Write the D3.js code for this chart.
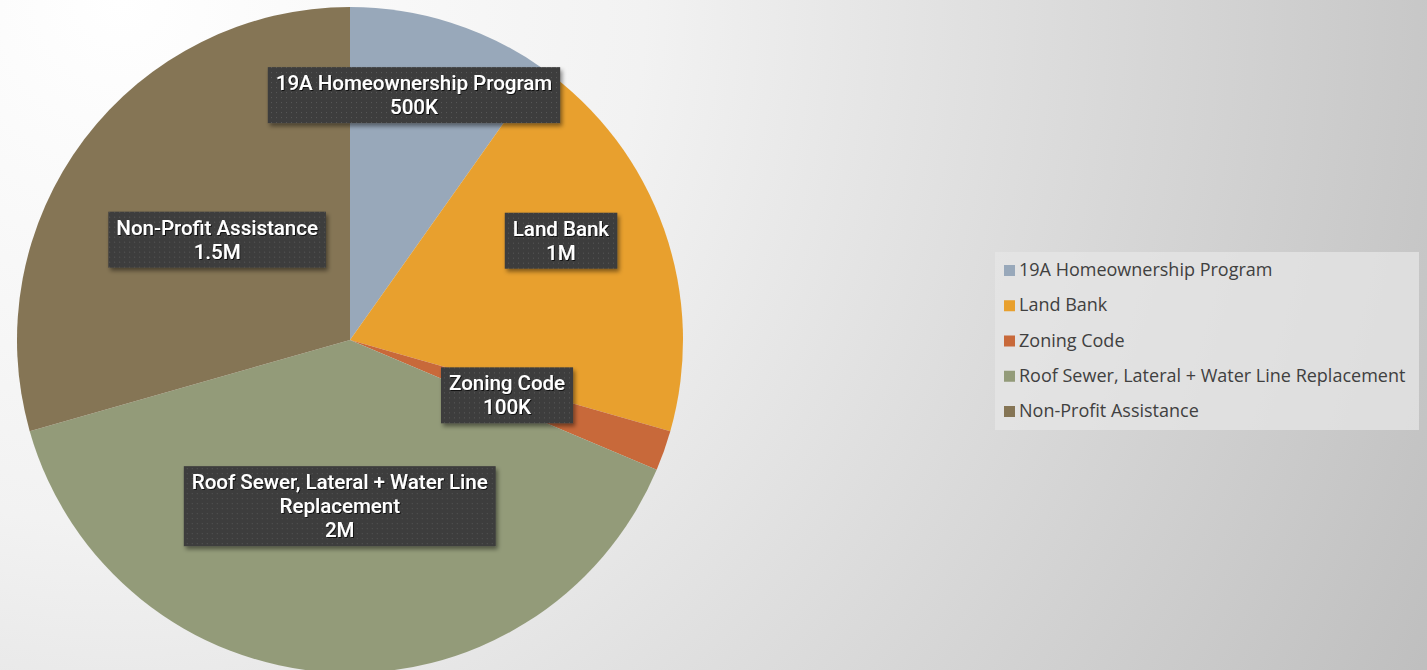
<!DOCTYPE html>
<html>
<head>
<meta charset="utf-8">
<script src="https://cdn.jsdelivr.net/npm/d3@7"></script>
<style>
  html, body { margin: 0; padding: 0; overflow: hidden; }
  svg { display: block; font-family: Roboto, "Open Sans", sans-serif; }
</style>
</head>
<body>
<svg id="chart" width="1427" height="670"></svg>
<script>
// data
const categories = ['19A Homeownership Program', 'Land Bank', 'Zoning Code',
                    'Roof Sewer, Lateral + Water Line Replacement', 'Non-Profit Assistance'];
const values = [500000, 1000000, 100000, 2000000, 1500000];
const valueLabels = ['500K', '1M', '100K', '2M', '1.5M'];
// category part of each label, wrapped as in the picture
const labelLines = [
  ['19A Homeownership Program'],
  ['Land Bank'],
  ['Zoning Code'],
  ['Roof Sewer, Lateral + Water Line', 'Replacement'],
  ['Non-Profit Assistance']
];
const colors = ['#98a8ba', '#e8a02e', '#c8693a', '#939b79', '#857555'];

const W = 1427, H = 670;
const cx = 350, cy = 340, R = 333;
// label placement: share of radius, and angle nudge in degrees (big boxes pushed out)
const labelR = [0.76, 0.70, 0.50, 0.50, 0.50];
const labelTurn = [-3, -5.8, 0, 0, 0];

const svg = d3.select('#chart');
const defs = svg.append('defs');

// backdrop gradient
const bg = defs.append('radialGradient').attr('id', 'bg')
  .attr('gradientUnits', 'userSpaceOnUse')
  .attr('cx', 120).attr('cy', 0).attr('r', 1500);
bg.append('stop').attr('offset', 0).attr('stop-color', '#ffffff');
bg.append('stop').attr('offset', 0.35).attr('stop-color', '#f2f2f2');
bg.append('stop').attr('offset', 1).attr('stop-color', '#bdbdbd');
svg.append('rect').attr('width', W).attr('height', H).attr('fill', 'url(#bg)');

// dotted dark texture for the label boxes
const pat = defs.append('pattern').attr('id', 'dots')
  .attr('patternUnits', 'userSpaceOnUse').attr('width', 5).attr('height', 5);
pat.append('rect').attr('width', 5).attr('height', 5).attr('fill', '#3c3c3c');
pat.append('rect').attr('x', 2).attr('y', 2).attr('width', 1).attr('height', 1).attr('fill', '#5a5a5a');

const shadow = defs.append('filter').attr('id', 'shadow')
  .attr('x', '-10%').attr('y', '-20%').attr('width', '130%').attr('height', '160%');
shadow.append('feDropShadow').attr('dx', 2).attr('dy', 3).attr('stdDeviation', 2)
  .attr('flood-color', '#000').attr('flood-opacity', 0.45);

const txtShadow = defs.append('filter').attr('id', 'tshadow');
txtShadow.append('feDropShadow').attr('dx', 1).attr('dy', 1).attr('stdDeviation', 0.6)
  .attr('flood-color', '#000').attr('flood-opacity', 0.7);

// pie
const pie = d3.pie().sort(null).value(d => d)(values);
const arc = d3.arc().innerRadius(0).outerRadius(R);
const g = svg.append('g').attr('transform', `translate(${cx},${cy})`);
g.selectAll('path').data(pie).join('path')
  .attr('d', arc)
  .attr('fill', (d, i) => colors[i]);

// data labels
const lineH = 24;
pie.forEach((d, i) => {
  const r = R * labelR[i];
  const a = (d.startAngle + d.endAngle) / 2 + labelTurn[i] * Math.PI / 180;
  const pos = [r * Math.sin(a), -r * Math.cos(a)];
  const lg = g.append('g').attr('transform', `translate(${pos[0]},${pos[1]})`);
  const lines = labelLines[i].concat([valueLabels[i]]);
  const t = lg.append('text')
    .attr('text-anchor', 'middle')
    .attr('fill', '#ffffff')
    .attr('font-size', 20.5)
    .attr('font-weight', 500)
    .attr('filter', 'url(#tshadow)');
  lines.forEach((s, k) => {
    t.append('tspan').attr('x', 0)
      .attr('y', (k - (lines.length - 1) / 2) * lineH + 7)
      .text(s);
  });
  const bb = t.node().getBBox();
  lg.insert('rect', 'text')
    .attr('x', bb.x - 8).attr('y', -lines.length * lineH / 2 - 4)
    .attr('width', bb.width + 16).attr('height', lines.length * lineH + 8)
    .attr('fill', 'url(#dots)')
    .attr('filter', 'url(#shadow)');
});

// legend
const lgX = 995, lgY = 252;
const legend = svg.append('g').attr('transform', `translate(${lgX},${lgY})`);
legend.append('rect').attr('width', 424).attr('height', 178)
  .attr('fill', '#e6e6e6').attr('opacity', 0.75);
const ly = d3.scalePoint().domain(categories).range([18, 159]);
categories.forEach((c, i) => {
  legend.append('rect').attr('x', 9).attr('y', ly(c) - 5).attr('width', 11).attr('height', 11)
    .attr('fill', colors[i]);
  legend.append('text').attr('x', 24).attr('y', ly(c) + 6)
    .attr('font-family', '"Open Sans", sans-serif')
    .attr('font-size', 18).attr('fill', '#404040').text(c);
});
</script>
</body>
</html>
